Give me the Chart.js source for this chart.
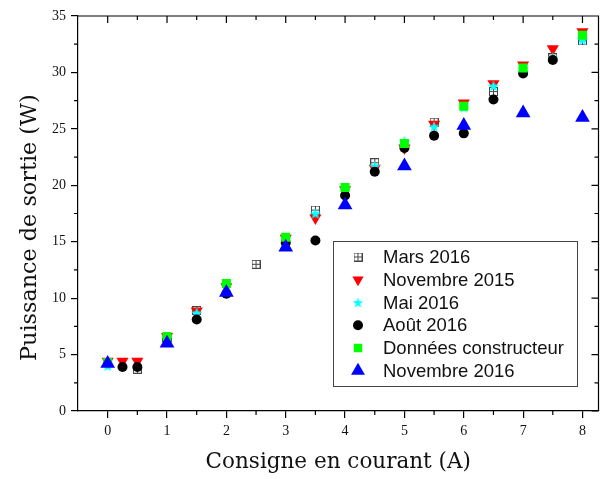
<!DOCTYPE html>
<html>
<head>
<meta charset="utf-8">
<script src="https://cdn.jsdelivr.net/npm/chart.js@4/dist/chart.umd.min.js"></script>
<style>
  html, body { margin: 0; background: #fff; overflow: hidden; }
  /* a few px wider than the window: Chart.js keeps a small gap right of the plot */
  #wrap { width: 607px; height: 479px; }
</style>
</head>
<body>
<div id="wrap"><canvas id="c"></canvas></div>
<script>
// values
const marsX = [0.5, 1.5, 2.5, 3.5, 4.5, 5.5, 6.5, 7.5, 8];
const marsY = [3.7, 8.9, 13.0, 17.8, 22.0, 25.6, 28.3, 31.3, 32.8];
const nov15X = [0, 0.25, 0.5, 1, 1.5, 2, 3, 3.5, 4, 4.5, 5, 5.5, 6, 6.5, 7, 7.5, 8];
const nov15Y = [4.4, 4.4, 4.4, 6.6, 8.85, 11.0, 15.3, 17.1, 19.6, 21.5, 23.3, 25.4, 27.3, 29.0, 30.65, 32.1, 33.6];
const mai16X = [0, 1, 1.5, 2, 3, 3.5, 4, 4.5, 5, 5.5, 6, 6.5, 7, 7.5, 8];
const mai16Y = [4.0, 6.5, 8.7, 11.1, 15.3, 17.5, 19.7, 21.7, 23.9, 25.2, 26.9, 28.8, 30.3, 31.3, 32.9];
const aout16X = [0.25, 0.5, 1, 1.5, 2, 3, 3.5, 4, 4.5, 5, 5.5, 6, 6.5, 7, 7.5];
const aout16Y = [3.9, 3.9, 6.3, 8.1, 10.4, 14.9, 15.1, 19.1, 21.2, 23.3, 24.4, 24.6, 27.6, 29.9, 31.1];
const constrX = [0, 1, 2, 3, 4, 5, 6, 7, 8];
const constrY = [4.3, 6.6, 11.3, 15.4, 19.8, 23.7, 27.0, 30.4, 33.3];
const nov16X = [0, 1, 2, 3, 4, 5, 6, 7, 8];
const nov16Y = [4.2, 6.0, 10.5, 14.5, 18.25, 21.7, 25.3, 26.4, 26.0];

const xTicks = [0, 1, 2, 3, 4, 5, 6, 7, 8];
const yTicks = [0, 5, 10, 15, 20, 25, 30, 35];
const xMinor = [0.5, 1.5, 2.5, 3.5, 4.5, 5.5, 6.5, 7.5];
const yMinor = [2.5, 7.5, 12.5, 17.5, 22.5, 27.5, 32.5];

const pts = (xs, ys) => xs.map((x, i) => ({ x: x, y: ys[i] }));

// square with a cross, for Mars 2016
function squareCross(size) {
  const c = document.createElement('canvas');
  c.width = size; c.height = size;
  const g = c.getContext('2d');
  g.strokeStyle = '#444';
  g.lineWidth = 1;
  g.strokeRect(0.5, 0.5, size - 1, size - 1);
  const m = Math.floor(size / 2) + 0.5;
  g.beginPath();
  g.moveTo(0.5, m); g.lineTo(size - 0.5, m);
  g.moveTo(m, 0.5); g.lineTo(m, size - 0.5);
  g.stroke();
  return c;
}

// filled five point star, for Mai 2016
function filledStar(size, color) {
  const c = document.createElement('canvas');
  c.width = size; c.height = size;
  const g = c.getContext('2d');
  const cx = size / 2, cy = size / 2 + 0.5, ro = size / 2, ri = ro * 0.42;
  g.fillStyle = color;
  g.beginPath();
  for (let i = 0; i < 10; i++) {
    const r = i % 2 ? ri : ro;
    const a = -Math.PI / 2 + i * Math.PI / 5;
    const px = cx + r * Math.cos(a), py = cy + r * Math.sin(a);
    i ? g.lineTo(px, py) : g.moveTo(px, py);
  }
  g.closePath();
  g.fill();
  return c;
}

const marsImg = squareCross(9);
const starImg = filledStar(12, '#00ffff');
const marsLeg = squareCross(9);
const starLeg = filledStar(11, '#00ffff');

const series = [
  { label: 'Mars 2016', data: pts(marsX, marsY), pointStyle: marsImg, leg: { pointStyle: marsLeg, radius: 5 }, order: 6 },
  { label: 'Novembre 2015', data: pts(nov15X, nov15Y), pointStyle: 'triangle', rotation: 180, pointRadius: 7,
    backgroundColor: '#ff0000', leg: { pointStyle: 'triangle', rotation: 180, radius: 6.5, color: '#ff0000' }, order: 5 },
  { label: 'Mai 2016', data: pts(mai16X, mai16Y), pointStyle: starImg, leg: { pointStyle: starLeg, radius: 5 }, order: 4 },
  { label: 'Août 2016', data: pts(aout16X, aout16Y), pointStyle: 'circle', pointRadius: 5,
    backgroundColor: '#000000', leg: { pointStyle: 'circle', radius: 5, color: '#000000' }, order: 3 },
  { label: 'Données constructeur', data: pts(constrX, constrY), pointStyle: 'rect', pointRadius: 6.4,
    backgroundColor: '#00ff00', leg: { pointStyle: 'rect', radius: 6, color: '#00ff00' }, order: 2 },
  { label: 'Novembre 2016', data: pts(nov16X, nov16Y), pointStyle: 'triangle', pointRadius: 8.5,
    backgroundColor: '#0000ff', leg: { pointStyle: 'triangle', radius: 8, color: '#0000ff' }, order: 1 }
];

const datasets = series.map(s => ({
  label: s.label,
  data: s.data,
  order: s.order,
  showLine: false,
  pointStyle: s.pointStyle,
  rotation: s.rotation || 0,
  pointRadius: s.pointRadius || 5,
  pointBackgroundColor: s.backgroundColor || '#000',
  pointBorderColor: s.backgroundColor || '#000',
  pointBorderWidth: 0
}));

const framePlugin = {
  id: 'frame',
  afterDraw(chart) {
    const { ctx, chartArea: a, scales: { x, y } } = chart;
    ctx.save();
    ctx.strokeStyle = '#000';
    ctx.lineWidth = 1.2;
    ctx.beginPath();
    // top and right border
    ctx.moveTo(a.left, a.top); ctx.lineTo(a.right, a.top); ctx.lineTo(a.right, a.bottom);
    // x ticks: minor outward at bottom, all inward at top
    xMinor.forEach(v => {
      const px = x.getPixelForValue(v);
      ctx.moveTo(px, a.bottom); ctx.lineTo(px, a.bottom + 4);
      ctx.moveTo(px, a.top); ctx.lineTo(px, a.top + 4);
    });
    xTicks.forEach(v => {
      const px = x.getPixelForValue(v);
      ctx.moveTo(px, a.top); ctx.lineTo(px, a.top + 7);
    });
    // y ticks: minor outward at left, all inward at right
    yMinor.forEach(v => {
      const py = y.getPixelForValue(v);
      ctx.moveTo(a.left, py); ctx.lineTo(a.left - 4, py);
      ctx.moveTo(a.right, py); ctx.lineTo(a.right - 4, py);
    });
    yTicks.forEach(v => {
      const py = y.getPixelForValue(v);
      ctx.moveTo(a.right, py); ctx.lineTo(a.right - 7, py);
    });
    ctx.stroke();

    // legend box
    const bx = 333, by = 241, bw = 244, bh = 145;
    ctx.fillStyle = '#fff';
    ctx.fillRect(bx, by, bw, bh);
    ctx.strokeStyle = '#444';
    ctx.lineWidth = 1;
    ctx.strokeRect(bx + 0.5, by + 0.5, bw, bh);
    ctx.font = '18.5px "Liberation Sans", Arial, sans-serif';
    ctx.textBaseline = 'middle';
    ctx.textAlign = 'left';
    series.forEach((s, i) => {
      const ly = 257 + i * 22.75;
      const l = s.leg;
      ctx.fillStyle = l.color || '#000';
      ctx.strokeStyle = l.color || '#000';
      Chart.helpers.drawPoint(ctx, { pointStyle: l.pointStyle, radius: l.radius, rotation: l.rotation || 0, borderWidth: 0 }, 358, ly);
      ctx.fillStyle = '#111';
      ctx.fillText(s.label, 383, ly + 1);
    });
    ctx.restore();
  }
};

new Chart(document.getElementById('c'), {
  type: 'scatter',
  data: { datasets: datasets },
  options: {
    responsive: true,
    maintainAspectRatio: false,
    animation: false,
    layout: { padding: { top: 16, right: 2, left: 0, bottom: 0 } },
    plugins: { legend: { display: false }, tooltip: { enabled: false } },
    scales: {
      x: {
        type: 'linear', min: -0.5, max: 8.27,
        afterBuildTicks: s => { s.ticks = xTicks.map(v => ({ value: v })); },
        afterFit: s => { s.height = 68; },
        grid: { drawOnChartArea: false, tickLength: 7, color: '#000', lineWidth: 1.2 },
        border: { display: true, color: '#000', width: 1.2 },
        ticks: { color: '#111', padding: 5, maxRotation: 0, font: { family: 'Liberation Serif', size: 14 } },
        title: { display: true, text: 'Consigne en courant (A)', color: '#111',
                 font: { family: 'DejaVu Serif', size: 21.5, lineHeight: 1.2 }, padding: { top: 0, bottom: 4 } }
      },
      y: {
        type: 'linear', min: 0, max: 35,
        afterBuildTicks: s => { s.ticks = yTicks.map(v => ({ value: v })); },
        afterFit: s => { s.width = 78; },
        grid: { drawOnChartArea: false, tickLength: 7, color: '#000', lineWidth: 1.2 },
        border: { display: true, color: '#000', width: 1.2 },
        ticks: { color: '#111', padding: 5, font: { family: 'Liberation Serif', size: 14 } },
        title: { display: true, text: 'Puissance de sortie (W)    ', color: '#111',
                 font: { family: 'DejaVu Serif', size: 22.3, lineHeight: 1.2 }, padding: { top: 17, bottom: 0 } }
      }
    }
  },
  plugins: [framePlugin]
});
</script>
</body>
</html>
